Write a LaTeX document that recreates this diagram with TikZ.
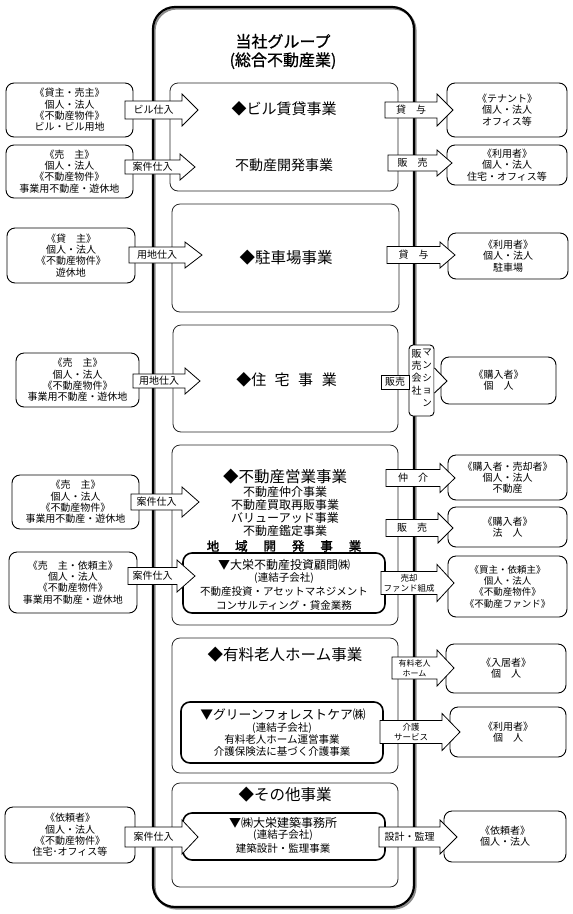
\documentclass[tikz,border=0pt]{standalone}
\usepackage{fontspec}
\setmainfont{Noto Sans CJK JP}
\newfontfamily\jpb{Noto Sans CJK JP}[FakeBold=1.8]
\newfontfamily\jpm{Noto Sans CJK JP}[FakeBold=0.8]
\newcommand\myfs[1]{\fontsize{#1}{#1}\selectfont}
\newcommand\rbox[7]{\node[#2, minimum width={#5-#3}, minimum height={#6-#4}] (#1) at ({(#3+#5)/2},{(#4+#6)/2}) {#7};}
\newcommand\barrow[9]{%
 \draw[barrow] (#2,{#5-#6}) -- (#3,{#5-#6}) -- (#3,{#5-#7}) -- (#4,#5) -- (#3,{#5+#7}) -- (#3,{#5+#6}) -- (#2,{#5+#6}) -- cycle;
 \node[alab,#8] (#1) at ({(#2+#3)/2},#5) {#9};}
\tikzset{
 outerbox/.style={draw, line width=2.2pt, rounded corners=22pt, inner sep=0pt, outer sep=0pt},
 catbox/.style={draw=black!85, line width=0.8pt, rounded corners=8pt, inner sep=0pt},
 subbox/.style={draw, line width=1.6pt, rounded corners=9pt, fill=white, inner sep=0pt},
 sidebox/.style={draw, line width=0.9pt, rounded corners=8pt, fill=white, inner sep=0pt, align=center, font=\fontsize{10}{11.3}\selectfont},
 barrow/.style={draw, line width=0.8pt, fill=white, line join=miter},
 alab/.style={inner sep=0pt, align=center, font=\fontsize{10}{11}\selectfont},
 txt/.style={inner sep=0pt},
}
\begin{document}
\begin{tikzpicture}[x=1pt,y=-1pt]
\useasboundingbox (0,0) rectangle (573,914);
% outer group box with shadow
\rbox{groupshadow}{outerbox, draw=black!45, line width=2pt}{154.6}{8.6}{415.6}{908.6}{}
\rbox{group}{outerbox}{153}{7}{414}{907}{}
\node[txt, font=\jpm\fontsize{16}{18.5}\selectfont, align=center] (title) at (283,51.5) {当社グループ\\(総合不動産業)};
% category boxes
\rbox{c1}{catbox}{170}{83}{398}{191}{}
\rbox{c2}{catbox}{172}{204}{399}{312}{}
\rbox{c3}{catbox}{173}{325}{398}{432}{}
\rbox{c4}{catbox}{172}{445}{398}{625}{}
\rbox{c5}{catbox}{172}{638}{398}{773}{}
\rbox{c6}{catbox}{172}{783}{398}{887}{}
\node[txt, font=\myfs{15}] (t1) at (284,109) {◆ビル賃貸事業};
\node[txt, font=\myfs{14}] (t1b) at (284,165) {不動産開発事業};
\node[txt, font=\myfs{15.5}] (t2) at (286,258) {◆駐車場事業};
\node[txt, font=\myfs{15}] (t3) at (286.5,380) {◆住\hspace{8.5pt}宅\hspace{8.5pt}事\hspace{8.5pt}業};
\node[txt, font=\myfs{15.5}] (t4) at (285,477) {◆不動産営業事業};
\node[txt, font=\myfs{12}] (t4a) at (285,492) {不動産仲介事業};
\node[txt, font=\myfs{12}] (t4b) at (285,505) {不動産買取再販事業};
\node[txt, font=\myfs{12}] (t4c) at (285,518) {バリューアッド事業};
\node[txt, font=\myfs{12}] (t4d) at (285,531) {不動産鑑定事業};
\foreach \c [count=\i from 0] in {地,域,開,発,事,業}
  \node[txt, font=\jpb\myfs{12.5}] (chiiki\i) at ({213+28.4*\i},546) {\c};
\node[txt, font=\myfs{15.5}] (t5) at (285,655) {◆有料老人ホーム事業};
\node[txt, font=\myfs{15.5}] (t6) at (285,795) {◆その他事業};
% subsidiary boxes
\rbox{s4}{subbox}{183}{553}{385}{613}{}
\node[txt, font=\myfs{12}] (s4a) at (284,565) {▼大栄不動産投資顧問㈱};
\node[txt, font=\myfs{10.5}] (s4b) at (284,578) {(連結子会社)};
\node[txt, font=\myfs{10.5}] (s4c) at (284,592) {不動産投資・アセットマネジメント};
\node[txt, font=\myfs{10.5}] (s4d) at (284,605) {コンサルティング・貸金業務};
\rbox{s5}{subbox}{181}{702}{383}{763}{}
\node[txt, font=\myfs{12.8}] (s5a) at (283,715) {▼グリーンフォレストケア㈱};
\node[txt, font=\myfs{10.5}] (s5b) at (282,728) {(連結子会社)};
\node[txt, font=\myfs{10.5}] (s5c) at (282,740) {有料老人ホーム運営事業};
\node[txt, font=\myfs{10.5}] (s5d) at (282,752) {介護保険法に基づく介護事業};
\rbox{s6}{subbox}{183}{813}{385}{860}{}
\node[txt, font=\myfs{12}] (s6a) at (283,823) {▼㈱大栄建築事務所};
\node[txt, font=\myfs{10.5}] (s6b) at (283,835) {(連結子会社)};
\node[txt, font=\myfs{10.5}] (s6c) at (283,848) {建築設計・監理事業};
% left boxes
\rbox{L1}{sidebox}{6}{83}{133}{137}{《貸主・売主》\\個人・法人\\《不動産物件》\\ビル・ビル用地}
\rbox{L2}{sidebox}{6}{145}{133}{198}{《売　主》\\個人・法人\\《不動産物件》\\事業用不動産・遊休地}
\rbox{L3}{sidebox}{7}{228}{135}{283}{《貸　主》\\個人・法人\\《不動産物件》\\遊休地}
\rbox{L4}{sidebox}{16}{353}{139}{407}{《売　主》\\個人・法人\\《不動産物件》\\事業用不動産・遊休地}
\rbox{L5}{sidebox}{12}{475}{139}{529}{《売　主》\\個人・法人\\《不動産物件》\\事業用不動産・遊休地}
\rbox{L6}{sidebox}{9}{552}{137}{613}{《売　主・依頼主》\\個人・法人\\《不動産物件》\\事業用不動産・遊休地}
\rbox{L7}{sidebox}{5}{807}{135}{863}{《依頼者》\\個人・法人\\《不動産物件》\\住宅･オフィス等}
% right boxes
\rbox{R1}{sidebox}{447}{83}{567}{137}{《テナント》\\個人・法人\\オフィス等}
\rbox{R2}{sidebox}{447}{145}{567}{185}{《利用者》\\個人・法人\\住宅・オフィス等}
\rbox{R3}{sidebox}{448}{233}{568}{279}{《利用者》\\個人・法人\\駐車場}
\rbox{R4}{sidebox}{441}{357}{556}{404}{《購入者》\\個　人}
\rbox{R5}{sidebox}{448}{455}{567}{500}{《購入者・売却者》\\個人・法人\\不動産}
\rbox{R6}{sidebox}{448}{507}{567}{547}{《購入者》\\法　人}
\rbox{R7}{sidebox, font=\fontsize{9.5}{11.3}\selectfont}{448}{556}{567}{617}{《買主・依頼主》\\個人・法人\\《不動産物件》\\《不動産ファンド》}
\rbox{R8}{sidebox}{446}{644}{566}{693}{《入居者》\\個　人}
\rbox{R9}{sidebox}{450}{707}{566}{757}{《利用者》\\個　人}
\rbox{R10}{sidebox}{444}{811}{566}{862}{《依頼者》\\個人・法人}
% left block arrows
\barrow{a1}{125}{182}{198}{110}{9}{16}{}{ビル仕入}
\barrow{a2}{125}{180}{195}{167}{7}{13}{}{案件仕入}
\barrow{a3}{129}{185}{202}{255}{8}{13}{}{用地仕入}
\barrow{a4}{133}{185}{200}{381}{7}{13}{}{用地仕入}
\barrow{a5}{131}{182}{199}{502}{8}{15}{}{案件仕入}
\barrow{a6}{128}{177}{195}{576}{8.5}{16}{}{案件仕入}
\barrow{a7}{125}{182}{198}{837}{10}{17}{}{案件仕入}
% right block arrows
\barrow{b1}{385}{437}{453}{110}{8}{16}{}{貸　与}
\barrow{b2}{388}{437}{452}{163}{8}{13}{}{販　売}
\barrow{b3}{387}{440}{455}{255}{8.5}{13}{}{貸　与}
\barrow{b5}{386}{440}{455}{478}{8.5}{14.5}{}{仲　介}
\barrow{b6}{386}{438}{453}{528}{8.5}{15}{}{販　売}
\barrow{b7}{381}{437}{454}{583}{11.5}{18.5}{font=\fontsize{8.5}{10}\selectfont}{売却\\ファンド組成}
\barrow{b8}{392}{437}{454}{668}{11}{18}{font=\fontsize{8}{10}\selectfont}{有料老人\\ホーム}
\barrow{b9}{380}{442}{460}{732}{11.5}{18.5}{font=\fontsize{8.5}{10}\selectfont}{介護\\サービス}
\barrow{b10}{379}{440}{457}{837}{10}{17}{}{設計・監理}
% mansion sales company composite arrow
\rbox{vbox}{draw, line width=0.9pt, rounded corners=4pt, fill=white, inner sep=0pt}{409}{345}{434}{416}{}
\draw[line width=0.9pt, fill=white, line join=miter] (vbox.east |- 0,368) -- (447,381) -- (vbox.east |- 0,393);
\rbox{hanbai}{draw, line width=0.8pt, fill=white, inner sep=0pt, font=\myfs{10}}{381}{375}{409}{389}{販売}
\node[txt, font=\fontsize{10}{12.3}\selectfont, align=center] (vt1) at (416.5,372) {販\\売\\会\\社};
\node[txt, font=\fontsize{9.5}{12.6}\selectfont, align=center] (vt2) at (427,378) {マ\\ン\\シ\\ョ\\ン};
\end{tikzpicture}
\end{document}
